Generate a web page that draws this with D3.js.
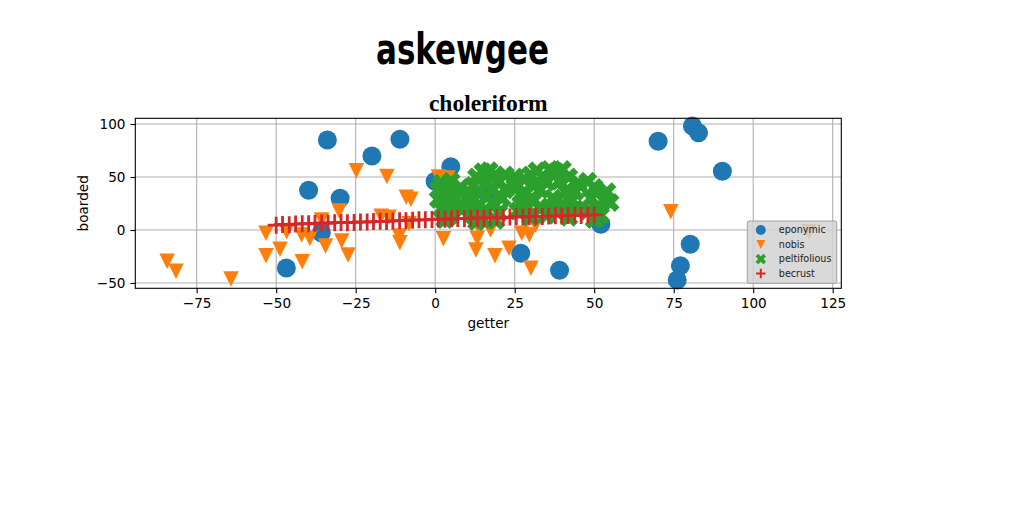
<!DOCTYPE html>
<html>
<head>
<meta charset="utf-8">
<script src="https://cdn.jsdelivr.net/npm/d3@7"></script>
<style>
  body { margin: 0; background: #fff; }
  svg { display: block; }
  text { font-family: "DejaVu Sans", sans-serif; }
</style>
</head>
<body>
<div id="chart"></div>
<script>
// ---- data ----
const xTicks = [-75, -50, -25, 0, 25, 50, 75, 100, 125];
const yTicks = [-50, 0, 50, 100];
const seriesNames = ["eponymic", "nobis", "peltifolious", "becrust"];

const eponymic = [
  [-33.9, 84.9], [-11.1, 85.6], [-19.9, 69.8], [-39.8, 37.5], [-29.9, 29.9],
  [-35.8, -2.5], [-46.8, -35.8], [0, 46], [4.9, 59.7], [16, 36],
  [52.1, 5.4], [26.9, -22], [39.1, -38], [70.1, 83.7], [80.9, 98.1],
  [82.8, 91.8], [90.3, 55.4], [80.2, -13.5], [77.1, -33.7], [76.1, -47.2]
];

const nobis = [
  [-84.3, -29.5], [-81.5, -39], [-64.2, -46.2], [-24.8, 56], [-15.2, 50.6],
  [-9.1, 31], [-7.6, 29], [-30.2, 17.9], [-17, 13], [-14.5, 12],
  [-35.7, 9.4], [-8.2, 6], [-53.2, -3.1], [-46.7, -1.6], [-42, -4.7],
  [-39.4, -7.9], [-34.5, -15], [-29.4, -10.4], [-27.4, -23.6], [-48.8, -18.2],
  [-53.2, -24.2], [-41.8, -29.9], [-11.3, -5.7], [-11.1, -12], [2.6, -8.3],
  [1, 50], [4, 49], [11.4, 15.7], [13.8, 1.6], [13.2, -7.9],
  [12.8, -18.9], [18.8, -24.2], [17.4, 0], [23.2, -17.3], [27.2, -3.1],
  [29.6, -4.7], [30.1, -36.1], [31.6, 4.7], [74.1, 17.3], [117.6, -1.6]
];

const peltifolious = [
  [2, 44], [4, 40], [3, 34], [1, 29], [4, 26], [2, 20], [5, 15], [3, 10],
  [6, 30], [5, 46], [6, 21], [1, 38], [4, 12],
  [10, 28], [11, 20], [12, 42], [13, 50], [15, 55], [17, 56], [19, 52],
  [14, 36], [16, 44], [18, 38], [20, 46], [21, 30], [12, 14], [14, 24],
  [16, 18], [18, 26], [20, 16], [22, 38], [11, 34], [15, 10], [19, 9],
  [9, 22], [13, 8], [22, 52], [8, 40],
  [26, 42], [27, 33], [28, 48], [30, 52], [32, 56], [34, 50], [36, 57],
  [38, 55], [40, 57], [42, 50], [29, 22], [31, 28], [33, 38], [35, 45],
  [37, 30], [39, 46], [41, 36], [43, 28], [44, 20], [38, 18], [35, 14],
  [30, 12], [26, 18], [42, 12], [45, 44], [27, 25], [33, 20], [40, 24],
  [36, 22], [25, 50], [31, 42], [44, 36],
  [48, 46], [50, 40], [49, 30], [51, 22], [53, 28], [55, 26], [52, 14],
  [48, 18], [54, 36], [50, 10]
];

const becrustX = [
  -50, -48, -45.9, -43.9, -41.8, -39.8, -37.8, -35.7, -33.7, -31.6,
  -29.6, -27.6, -25.5, -23.5, -21.4, -19.4, -17.3, -15.3, -13.3, -11.2,
  -9.2, -7.1, -5.1, -3.1, -1, 1, 3.1, 5.1, 7.1, 9.2,
  11.2, 13.3, 15.3, 17.3, 19.4, 21.4, 23.5, 25.5, 27.6, 29.6,
  31.6, 33.7, 35.7, 37.8, 39.8, 41.8, 43.9, 45.9, 48, 50
];
const becrustY = [
  4.6, 5.2, 5.0, 5.6, 6.0, 5.8, 6.3, 6.6, 6.4, 6.9,
  7.1, 6.9, 7.2, 7.6, 7.5, 8.0, 8.2, 8.1, 8.6, 8.8,
  8.8, 9.3, 9.6, 9.6, 10.0, 10.3, 10.1, 10.6, 10.8, 10.7,
  11.1, 11.4, 11.2, 11.7, 11.9, 11.8, 12.2, 12.5, 12.3, 12.7,
  12.9, 12.8, 13.1, 13.4, 13.2, 13.6, 13.9, 13.7, 14.1, 14.2
];

// ---- layout ----
const W = 1024, H = 512;
const margin = { top: 118.3, right: 182.7, bottom: 223.7, left: 135.3 },
  width = W - margin.left - margin.right,
  height = H - margin.top - margin.bottom;

const colors = ["#1f77b4", "#ff7f0e", "#2ca02c", "#d62728"];

const xScale = d3.scaleLinear().domain([-94.3, 127.7]).range([0, width]);
const yScale = d3.scaleLinear().domain([-55, 105.4]).range([height, 0]);

const svg = d3.select("#chart").append("svg")
  .attr("width", W)
  .attr("height", H);

// titles
svg.append("text")
  .attr("x", 376).attr("y", 64)
  .attr("textLength", 173)
  .attr("lengthAdjust", "spacingAndGlyphs")
  .style("font-family", "'DejaVu Sans Condensed', 'DejaVu Sans', sans-serif")
  .style("font-weight", "bold")
  .style("font-size", "43px")
  .style("fill", "#000")
  .text("askewgee");

svg.append("text")
  .attr("x", margin.left + width / 2).attr("y", 111)
  .attr("text-anchor", "middle")
  .style("font-family", "'Liberation Serif', serif")
  .style("font-weight", "bold")
  .style("font-size", "23.5px")
  .text("choleriform");

const g = svg.append("g")
  .attr("transform", `translate(${margin.left},${margin.top})`);

// grid
g.append("g").selectAll("line").data(xTicks).enter().append("line")
  .attr("x1", d => xScale(d)).attr("x2", d => xScale(d))
  .attr("y1", 0).attr("y2", height)
  .attr("stroke", "#b0b0b0").attr("stroke-width", 1.1);
g.append("g").selectAll("line").data(yTicks).enter().append("line")
  .attr("y1", d => yScale(d)).attr("y2", d => yScale(d))
  .attr("x1", 0).attr("x2", width)
  .attr("stroke", "#b0b0b0").attr("stroke-width", 1.1);

// marker shapes
const xFilled = [[-1, -2], [0, -1], [1, -2], [2, -1], [1, 0], [2, 1], [1, 2], [0, 1], [-1, 2], [-2, 1], [-1, 0], [-2, -1]];
function xPath(s) {
  const k = s / 4;
  return "M" + xFilled.map(p => [p[0] * k, p[1] * k].join(",")).join("L") + "Z";
}
function triPath(s) {
  const h = s / 2;
  return `M${-h},${-h}L${h},${-h}L0,${h}Z`;
}
function plusPath(s) {
  const h = s / 2;
  return `M${-h},0H${h}M0,${-h}V${h}`;
}

const plot = g.append("g");

plot.append("g").attr("fill", colors[0])
  .selectAll("circle").data(eponymic).enter().append("circle")
  .attr("cx", d => xScale(d[0])).attr("cy", d => yScale(d[1]))
  .attr("r", 9.5);

plot.append("g").attr("fill", colors[1])
  .selectAll("path").data(nobis).enter().append("path")
  .attr("d", triPath(15.5))
  .attr("transform", d => `translate(${xScale(d[0])},${yScale(d[1])})`);

plot.append("g").attr("fill", colors[2])
  .selectAll("path").data(peltifolious).enter().append("path")
  .attr("d", xPath(19))
  .attr("transform", d => `translate(${xScale(d[0])},${yScale(d[1])})`);

plot.append("g").attr("stroke", colors[3]).attr("stroke-width", 2.8).attr("fill", "none")
  .selectAll("path").data(becrustX).enter().append("path")
  .attr("d", plusPath(17))
  .attr("transform", (d, i) => `translate(${xScale(d)},${yScale(becrustY[i])})`);

// frame
g.append("rect")
  .attr("width", width).attr("height", height)
  .attr("fill", "none").attr("stroke", "#000").attr("stroke-width", 1.1);

// axes
const xAxis = g.append("g")
  .attr("transform", `translate(0,${height})`)
  .call(d3.axisBottom(xScale).tickValues(xTicks).tickSize(4.9).tickPadding(4.9));
const yAxis = g.append("g")
  .call(d3.axisLeft(yScale).tickValues(yTicks).tickSize(4.9).tickPadding(4.9));
[xAxis, yAxis].forEach(a => {
  a.select(".domain").remove();
  a.selectAll("line").attr("stroke", "#000").attr("stroke-width", 1.1);
  a.selectAll("text")
    .style("font-family", "'DejaVu Sans', sans-serif")
    .style("font-size", "13.6px")
    .attr("fill", "#000");
});

g.append("text")
  .attr("x", width / 2).attr("y", height + 40)
  .attr("text-anchor", "middle")
  .style("font-size", "13.6px")
  .text("getter");

g.append("text")
  .attr("transform", `translate(${83.5 - margin.left},${height / 2}) rotate(-90)`)
  .attr("text-anchor", "middle")
  .attr("dy", "0.35em")
  .style("font-size", "13.6px")
  .text("boarded");

// legend
const legend = svg.append("g").attr("transform", "translate(747.3,221)");
legend.append("rect")
  .attr("width", 89.4).attr("height", 62.3).attr("rx", 2)
  .attr("fill", "#d2d2d2").attr("fill-opacity", 0.85)
  .attr("stroke", "#a0a0a0").attr("stroke-width", 1);

const rows = legend.selectAll("g.item").data(seriesNames).enter().append("g")
  .attr("class", "item")
  .attr("transform", (d, i) => `translate(13.5,${9 + i * 14.5})`);

rows.each(function (d, i) {
  const r = d3.select(this);
  if (i === 0) r.append("circle").attr("r", 5).attr("fill", colors[0]);
  if (i === 1) r.append("path").attr("d", triPath(9)).attr("fill", colors[1]);
  if (i === 2) r.append("path").attr("d", xPath(10.5)).attr("fill", colors[2]);
  if (i === 3) r.append("path").attr("d", plusPath(9.5)).attr("stroke", colors[3]).attr("stroke-width", 2);
});

rows.append("text")
  .attr("x", 18).attr("dy", "0.32em")
  .style("font-size", "9.6px")
  .attr("fill", "#222")
  .text(d => d);
</script>
</body>
</html>
